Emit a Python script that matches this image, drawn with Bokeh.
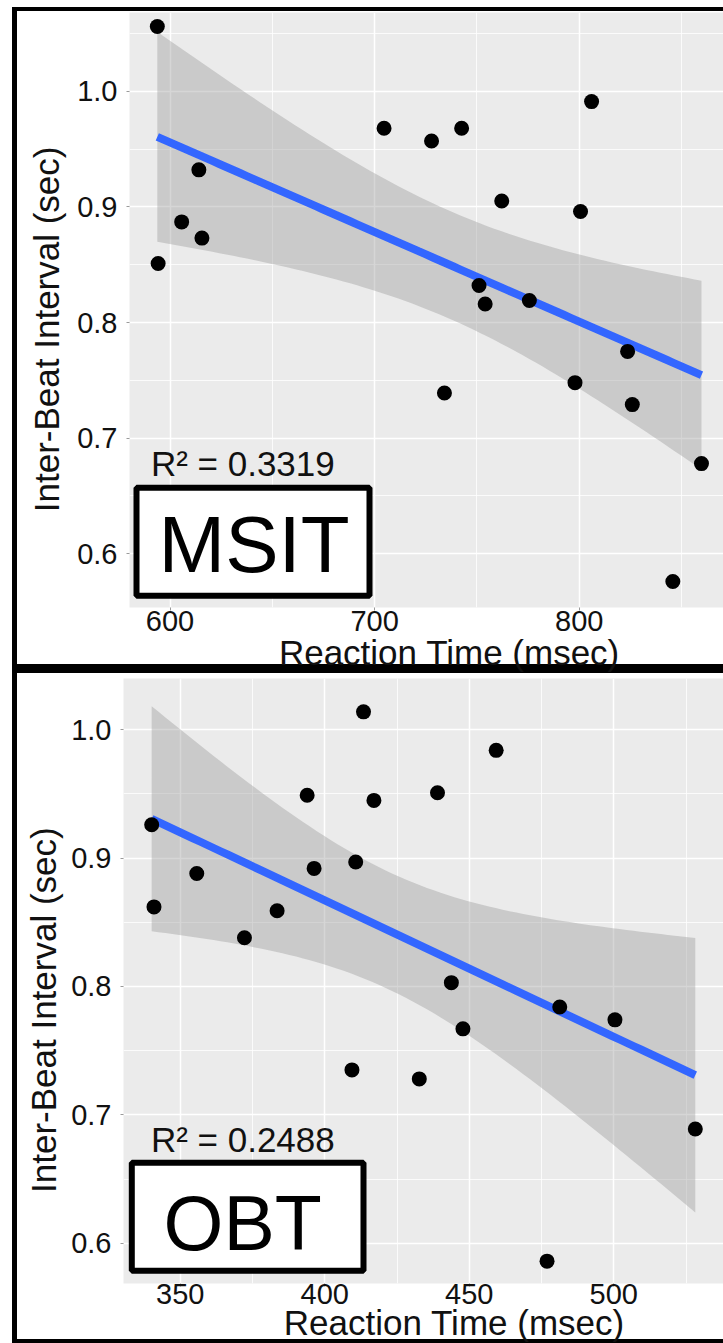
import numpy as np
from bokeh.plotting import figure
from bokeh.layouts import column
from bokeh.models import FixedTicker, PrintfTickFormatter, Label, BoxAnnotation, Title
from bokeh.embed import file_html
from bokeh.resources import INLINE

# ---------------- data ----------------
msit_rt = [593.8, 704.6, 727.8, 742.5, 806.0, 614.1, 605.7, 615.6, 594.2, 762.1,
           800.6, 751.0, 754.0, 775.6, 823.6, 797.9, 734.1, 825.9, 859.7, 845.7]
msit_ibi = [1.056, 0.968, 0.957, 0.968, 0.991, 0.932, 0.887, 0.873, 0.851, 0.905,
            0.896, 0.832, 0.816, 0.819, 0.775, 0.748, 0.739, 0.729, 0.678, 0.576]
obt_rt = [413.4, 459.3, 393.9, 417.0, 439.0, 340.1, 355.7, 396.3, 410.7, 340.9,
          383.5, 372.2, 443.8, 481.3, 500.4, 447.8, 409.4, 432.7, 528.2, 476.9]
obt_ibi = [1.014, 0.984, 0.949, 0.945, 0.951, 0.926, 0.888, 0.892, 0.897, 0.862,
           0.859, 0.838, 0.803, 0.784, 0.774, 0.767, 0.735, 0.728, 0.689, 0.586]

msit_x_ticks = [600, 700, 800]
msit_x_minor = [550, 650, 750, 850]
obt_x_ticks = [350, 400, 450, 500]
obt_x_minor = [325, 375, 425, 475, 525]
y_ticks = [0.6, 0.7, 0.8, 0.9, 1.0]
y_minor = [0.55, 0.65, 0.75, 0.85, 0.95, 1.05]

x_title = "Reaction Time (msec)"
y_title = "Inter-Beat Interval (sec)"
msit_r2 = "R\u00b2 = 0.3319"
obt_r2 = "R\u00b2 = 0.2488"

FONT = "Liberation Sans"
INK = "#111111"


def lm_band(x, y, n=80, t=2.1009):
    x = np.asarray(x, float)
    y = np.asarray(y, float)
    b, a = np.polyfit(x, y, 1)
    xs = np.linspace(x.min(), x.max(), n)
    resid = y - (a + b * x)
    s = np.sqrt((resid ** 2).sum() / (len(x) - 2))
    sxx = ((x - x.mean()) ** 2).sum()
    se = s * np.sqrt(1.0 / len(x) + (xs - x.mean()) ** 2 / sxx)
    yh = a + b * xs
    return xs, yh, yh - t * se, yh + t * se


def frame_css(h, x0, y0, top_h, bot_y, bot_h, shift=0):
    css = {
        "background-image": "linear-gradient(#000,#000), linear-gradient(#000,#000), linear-gradient(#000,#000)",
        "background-repeat": "no-repeat",
        "background-position": f"{x0}px {y0}px, {x0}px {y0}px, {x0}px {bot_y}px",
        "background-size": f"5px {h - y0}px, 711px {top_h}px, 711px {bot_h}px",
    }
    if shift:
        css["transform"] = f"translateX({shift}px)"
    return css


def panel(rt, ibi, xr, yr, xt, xmt, width, height, b_left, b_top, b_bottom, xstand,
          r2, name, name_size, ytitle, xtitle, r2_pos, box, name_pos, css):
    p = figure(width=width, height=height, x_range=xr, y_range=yr,
               output_backend="svg", toolbar_location=None,
               min_border_left=b_left, min_border_right=0,
               min_border_top=b_top, min_border_bottom=b_bottom)
    p.background_fill_color = "#EBEBEB"
    p.border_fill_color = None
    p.outline_line_color = None

    xtk = FixedTicker(ticks=xt, minor_ticks=xmt)
    ytk = FixedTicker(ticks=y_ticks, minor_ticks=y_minor)
    p.xaxis.ticker = xtk
    p.yaxis.ticker = ytk
    p.xgrid.ticker = xtk
    p.ygrid.ticker = ytk
    p.yaxis.formatter = PrintfTickFormatter(format="%.1f")
    for ax in (p.xaxis[0], p.yaxis[0]):
        ax.axis_line_color = None
        ax.major_tick_line_color = "#9a9a9a"
        ax.major_tick_in = 0
        ax.major_tick_out = 3
        ax.minor_tick_in = 0
        ax.minor_tick_out = 0
        ax.minor_tick_line_color = None
        ax.major_label_text_font = FONT
        ax.major_label_text_font_size = "29px"
        ax.major_label_text_color = INK
    p.yaxis.major_label_standoff = 9
    p.xaxis.major_label_standoff = xstand

    p.grid.grid_line_color = "white"
    p.grid.grid_line_width = 1.5
    p.grid.minor_grid_line_color = "white"
    p.grid.minor_grid_line_width = 0.8

    xs, yh, lo, hi = lm_band(rt, ibi)
    p.varea(x=xs, y1=lo, y2=hi, fill_color="#999999", fill_alpha=0.4)
    p.line(x=xs, y=yh, line_color="#3366FF", line_width=8)
    p.scatter(x=rt, y=ibi, size=15, fill_color="black", line_color=None)

    # axis titles as side-panel titles (placed like the reference)
    p.add_layout(Title(text=x_title, align="left", offset=xtitle[0], standoff=xtitle[1],
                       vertical_align="top", text_font=FONT, text_font_size="35px",
                       text_font_style="normal", text_color=INK), "below")
    p.add_layout(Title(text=y_title, align="left", offset=ytitle[0], standoff=ytitle[1],
                       vertical_align="bottom", text_font=FONT, text_font_size="35px",
                       text_font_style="normal", text_color=INK), "left")

    p.add_layout(Label(x=r2_pos[0], y=r2_pos[1], x_units="screen", y_units="screen",
                       text=r2, text_align="left", text_baseline="alphabetic",
                       text_font=FONT, text_font_size="35px", text_color=INK))
    p.add_layout(BoxAnnotation(left=box[0], right=box[1], bottom=box[2], top=box[3],
                               left_units="screen", right_units="screen",
                               bottom_units="screen", top_units="screen",
                               fill_color="white", fill_alpha=1.0,
                               line_color="black", line_alpha=1.0, line_width=6))
    p.add_layout(Label(x=name_pos[0], y=name_pos[1], x_units="screen", y_units="screen",
                       text=name, text_align="left", text_baseline="alphabetic",
                       text_font=FONT, text_font_size=name_size, text_color="black"))
    p.styles = css
    return p


# panel 1 is laid out 6px narrower and shifted right by 6px, so that both panels
# share the same layout border while their plot areas sit where the reference has them
p1 = panel(msit_rt, msit_ibi, (580.21, 870.46), (0.55357, 1.06805),
           msit_x_ticks, msit_x_minor, 717, 678, 123, 12, 71, 0,
           msit_r2, "MSIT", "80px", (95.3, 17), (149.4, -2), (21.4, 144),
           (7, 240, 11.7, 119.7), (29, 63), frame_css(678, 6, 7, 4, 664, 9, shift=6))

p2 = panel(obt_rt, obt_ibi, (330.35, 537.96), (0.56860, 1.03997),
           obt_x_ticks, obt_x_minor, 723, 665, 123, 0, 60, -3,
           obt_r2, "OBT", "77px", (90.5, 11), (160.3, -7), (27.4, 144),
           (8.3, 240, 12.7, 120.7), (40, 61), frame_css(665, 12, 0, 0, 661, 4))

layout = column(p1, p2, spacing=0)
open("out.html", "w").write(file_html(layout, INLINE, title="IBI vs RT"))
